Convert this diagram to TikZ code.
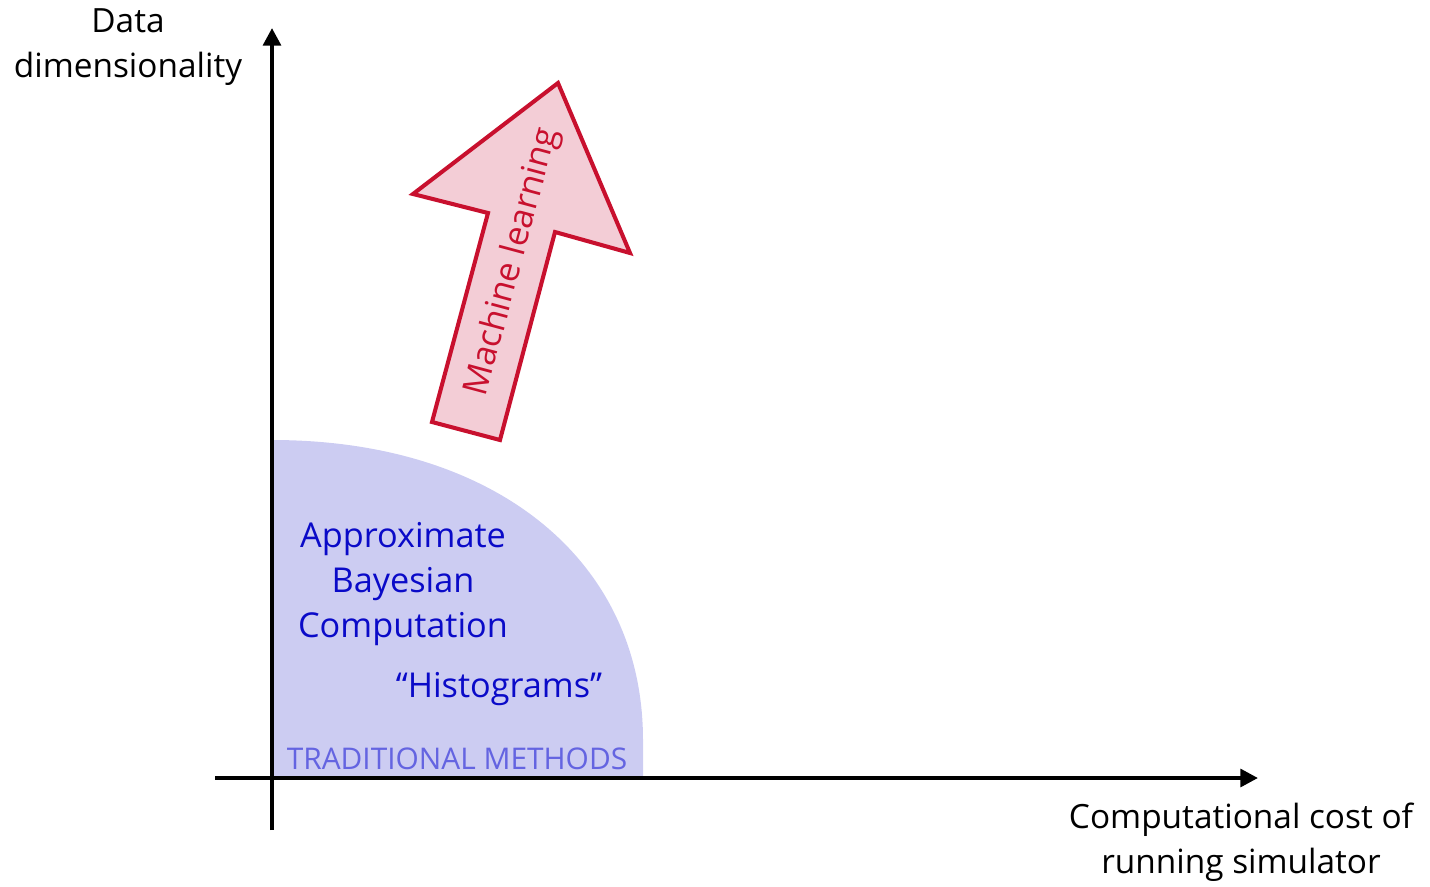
\documentclass[tikz,border=0pt]{standalone}
\usepackage{fontspec}
\setmainfont{Open Sans}
\usetikzlibrary{arrows.meta, positioning}

\definecolor{mlred}{RGB}{200,16,46}
\definecolor{mlpink}{RGB}{243,205,214}
\definecolor{tradfill}{RGB}{204,204,242}
\definecolor{tradblue}{RGB}{10,10,200}
\definecolor{tradlight}{RGB}{100,100,225}

\begin{document}
\begin{tikzpicture}[x=0.02cm, y=-0.02cm,
  axis/.style={line width=2.3pt, -{Triangle[length=10pt, width=10pt]}},
  axislabel/.style={align=center, font=\fontsize{19}{25.5}\selectfont},
  method/.style={text=tradblue, align=center, font=\fontsize{19.5}{25.5}\selectfont}]

\useasboundingbox (0,0) rectangle (1430,886);

% region of the traditional methods
\fill [tradfill] (272,778) -- (272,440) .. controls (495,440) and (643,560) .. (643,740) -- (643,778) -- cycle;

% axes
\coordinate (xstart) at (215,778);
\coordinate (xend) at (1258,778);
\coordinate (ystart) at (272,830);
\coordinate (yend) at (272,28);
\draw [axis] (xstart) -- (xend);
\draw [axis] (ystart) -- (yend);

\node [axislabel] (ylabel) at (128,47) {Data\\dimensionality};
\node [axislabel] (xlabel) at (1241,842) {Computational cost of\\running simulator};

% methods
\node [method] (abc) at (403,584) {Approximate\\Bayesian\\Computation};
\node [method] (hist) at (499,689) {“Histograms”};
\node [text=tradlight, font=\fontsize{17}{19}\selectfont] (trad) at (457,759) {TRADITIONAL METHODS};

% machine learning arrow
\draw [line width=2.3pt, draw=mlred, fill=mlpink, line join=miter] (558,83) -- (630,253) -- (555,232) -- (500,440) -- (432,422) -- (488,213) -- (413,194) -- cycle;
\node [rotate=75, text=mlred, font=\fontsize{19.5}{24}\selectfont] (ml) at (513,262) {Machine learning};

\end{tikzpicture}
\end{document}
